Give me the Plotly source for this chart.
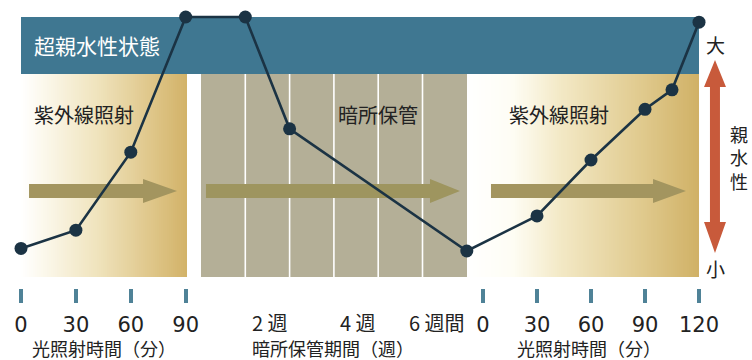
import plotly.graph_objects as go

# ---------------- data ----------------
uv1_minutes = [0, 30, 60, 90]
uv1_hydrophilicity = [11, 18, 48, 100]
storage_weeks = [1, 2, 6]
storage_hydrophilicity = [100, 57, 10]
uv2_minutes = [30, 60, 90, 105, 120]
uv2_hydrophilicity = [23.5, 45, 64.5, 72, 98]

uv_tick_minutes_1 = [0, 30, 60, 90]
uv_tick_minutes_2 = [0, 30, 60, 90, 120]
week_tick_values = [2, 4, 6]
week_tick_labels = ["2 週", "4 週", "6 週間"]

# ---------------- broken-axis layout (segment origin + scale on a shared x axis) ----------------
W, H = 752, 360
UV1_X0, UV1_SCALE = 21, 1.83      # per minute
ST_X0, ST_SCALE = 201, 44.3       # per week
UV2_X0, UV2_SCALE = 483, 1.8      # per minute


def seg(x0, scale, vals):
    return [x0 + v * scale for v in vals]


def py(p):  # pixel row -> paper y
    return (H - p) / H


def px(p):
    return p / W


FONT_JP = "Noto Sans CJK JP"
LINE_COL = "#1b3344"

x_all = seg(UV1_X0, UV1_SCALE, uv1_minutes) + seg(ST_X0, ST_SCALE, storage_weeks) + seg(UV2_X0, UV2_SCALE, uv2_minutes)
y_all = uv1_hydrophilicity + storage_hydrophilicity + uv2_hydrophilicity

fig = go.Figure()
fig.add_trace(go.Scatter(
    x=x_all, y=y_all, mode="lines+markers",
    line=dict(color=LINE_COL, width=2.6),
    marker=dict(color=LINE_COL, size=13),
    cliponaxis=False, showlegend=False, hoverinfo="skip",
))

shapes = []


def rect(x0, x1, y0, y1, color, layer="below"):
    shapes.append(dict(type="rect", xref="paper", yref="paper",
                       x0=px(x0), x1=px(x1), y0=py(y1), y1=py(y0),
                       fillcolor=color, line=dict(width=0), layer=layer))


def lerp_color(stops, t):
    for i in range(len(stops) - 1):
        t0, c0 = stops[i]
        t1, c1 = stops[i + 1]
        if t <= t1:
            f = (t - t0) / (t1 - t0) if t1 > t0 else 0
            c = [round(c0[k] + (c1[k] - c0[k]) * f) for k in range(3)]
            return "rgb(%d,%d,%d)" % tuple(c)
    return "rgb(%d,%d,%d)" % tuple(stops[-1][1])


def gradient(x0, x1, y0, y1, stops, step=2):
    x = x0
    while x < x1:
        xe = min(x + step + 0.6, x1)
        t = (x + step / 2 - x0) / (x1 - x0)
        rect(x, xe, y0, y1, lerp_color(stops, t))
        x += step


PANEL_TOP, PANEL_BOT = 74, 277
left_stops = [(0, (255, 255, 255)), (0.12, (252, 249, 238)), (0.45, (240, 228, 190)),
              (0.8, (222, 197, 135)), (1, (210, 178, 104))]
right_stops = [(0, (255, 255, 255)), (0.2, (254, 253, 244)), (0.4, (243, 233, 198)),
               (0.75, (224, 202, 142)), (1, (208, 177, 102))]
gradient(21, 187, PANEL_TOP, PANEL_BOT, left_stops)
gradient(467, 699, PANEL_TOP, PANEL_BOT, right_stops)

# dark storage panel
rect(201, 467, PANEL_TOP, PANEL_BOT, "#b4af97")
for wk in [1, 2, 3, 4, 5]:
    xx = ST_X0 + wk * ST_SCALE
    shapes.append(dict(type="line", xref="paper", yref="paper",
                       x0=px(xx), x1=px(xx), y0=py(PANEL_TOP), y1=py(PANEL_BOT),
                       line=dict(color="white", width=1.6), layer="below"))

# banner
rect(21, 699, 17, 74, "#3f7791")


def arrow(x0, xb, xt, yc, half_body=7, half_head=12, color="#a3955f"):
    pts = [(x0, yc - half_body), (xb, yc - half_body), (xb, yc - half_head), (xt, yc),
           (xb, yc + half_head), (xb, yc + half_body), (x0, yc + half_body)]
    path = "M " + " L ".join("%.4f,%.4f" % (px(a), py(b)) for a, b in pts) + " Z"
    shapes.append(dict(type="path", xref="paper", yref="paper", path=path,
                       fillcolor=color, line=dict(width=0), layer="below"))


arrow(29, 143, 177, 191)
arrow(206, 430, 460, 191, color="#9e955f")
arrow(491, 653, 686, 191)

# red double arrow for 親水性
RX = 715
pts = [(RX, 60), (RX + 11, 87), (RX + 5, 87), (RX + 5, 222), (RX + 11, 222), (RX, 253),
       (RX - 11, 222), (RX - 5, 222), (RX - 5, 87), (RX - 11, 87)]
shapes.append(dict(type="path", xref="paper", yref="paper",
                   path="M " + " L ".join("%.4f,%.4f" % (px(a), py(b)) for a, b in pts) + " Z",
                   fillcolor="#c85a3b", line=dict(width=0)))

annotations = []


def text(t, x, y, size, color="#222222", xanchor="center", family=FONT_JP, xref="paper"):
    annotations.append(dict(text=t, x=px(x) if xref == "paper" else x, y=py(y), xref=xref, yref="paper",
                            xanchor=xanchor, yanchor="middle", showarrow=False,
                            font=dict(family=family, size=size, color=color)))


text("超親水性状態", 32, 45, 21, color="white", xanchor="left")
text("紫外線照射", 84, 115, 20)
text("暗所保管", 378, 115, 20)
text("紫外線照射", 559, 115, 20)
text("大", 715, 44, 19)
text("小", 715, 268, 19)
text("親<br>水<br>性", 739, 157, 18)

for v, lab in zip(week_tick_values, week_tick_labels):
    text(lab, ST_X0 + v * ST_SCALE, 322, 20, xanchor="right", xref="x")

text("光照射時間（分）", 104, 348, 18)
text("暗所保管期間（週）", 333, 348, 18)
text("光照射時間（分）", 589, 348, 18)

tickvals = seg(UV1_X0, UV1_SCALE, uv_tick_minutes_1) + seg(UV2_X0, UV2_SCALE, uv_tick_minutes_2)
ticktext = [str(m) for m in uv_tick_minutes_1] + [str(m) for m in uv_tick_minutes_2]

fig.update_layout(
    width=W, height=H, autosize=False,
    margin=dict(l=0, r=0, t=0, b=0, pad=0),
    paper_bgcolor="white", plot_bgcolor="rgba(0,0,0,0)",
    shapes=shapes, annotations=annotations,
    xaxis=dict(range=[0, W], anchor="free", position=py(288), showgrid=False, zeroline=False,
               showline=False, ticks="outside", ticklen=14, tickwidth=3.5, tickcolor="#4f8297",
               tickvals=tickvals, ticktext=ticktext, ticklabelstandoff=4,
               tickfont=dict(family="DejaVu Sans", size=21, color="#222222"),
               automargin=False, fixedrange=True),
    yaxis=dict(range=[(277 - 360) / 260 * 100, 277 / 260 * 100], visible=False,
               automargin=False, fixedrange=True),
)

fig.write_html("out.html")
